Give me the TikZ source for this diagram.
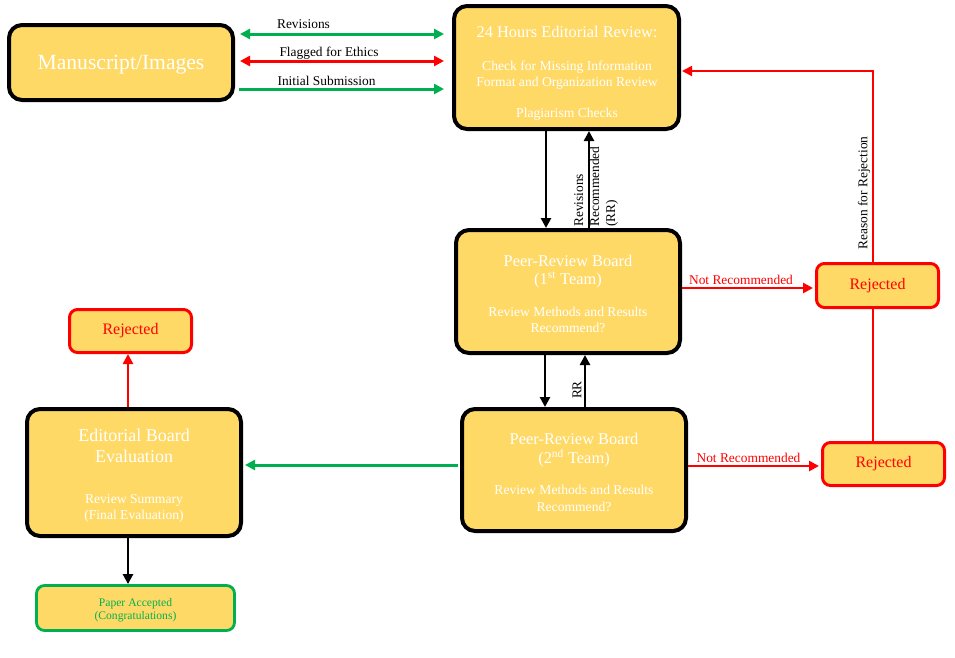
\documentclass[tikz,border=0pt]{standalone}
\usepackage{fontspec}
\setmainfont{Liberation Serif}
\usetikzlibrary{arrows.meta}
\definecolor{boxfill}{HTML}{FFD966}
\definecolor{okgreen}{HTML}{00B050}
\definecolor{nored}{HTML}{FF0000}
\begin{document}
\begin{tikzpicture}[x=1pt,y=-1pt,
  bigbox/.style={draw=black, line width=4pt, fill=boxfill, rounded corners=13pt, inner sep=0pt},
  redbox/.style={draw=nored, line width=3pt, fill=boxfill, rounded corners=8pt, inner sep=0pt, text=nored, font=\fontsize{16}{19}\selectfont},
  greenbox/.style={draw=okgreen, line width=2.8pt, fill=boxfill, rounded corners=8pt, inner sep=0pt},
  wtitle/.style={text=white, inner sep=0pt, yshift=-2pt, font=\fontsize{16.4}{19}\selectfont},
  wbody/.style={text=white, inner sep=0pt, yshift=-2pt, font=\fontsize{13.6}{16}\selectfont},
  lbl/.style={inner sep=0pt, yshift=-1pt, font=\fontsize{13.4}{16.5}\selectfont},
  tip/.style={-{Triangle[length=10pt,width=10pt]}},
  bothtip/.style={{Triangle[length=10pt,width=10pt]}-{Triangle[length=10pt,width=10pt]}},
  blk/.style={draw=black, line width=2.7pt},
  grn/.style={draw=okgreen, line width=3pt},
  rd/.style={draw=nored, line width=2.5pt},
  rdline/.style={draw=nored, line width=2pt}
]
\useasboundingbox (0,0) rectangle (955,657);

% boxes
\node[bigbox, minimum width=224pt, minimum height=75pt] (ms) at (121,62.5) {};
\node[bigbox, minimum width=225pt, minimum height=123pt] (ed) at (566.5,67.5) {};
\node[bigbox, minimum width=224pt, minimum height=123pt] (p1) at (568,291.5) {};
\node[bigbox, minimum width=224pt, minimum height=122pt] (p2) at (574,470) {};
\node[bigbox, minimum width=214pt, minimum height=127pt] (eb) at (134,472.5) {};
\node[redbox, minimum width=122pt, minimum height=44pt] (r1) at (877.5,285.5) {\raisebox{-1.5pt}{Rejected}};
\node[redbox, minimum width=122pt, minimum height=43pt] (r2) at (883.5,464) {\raisebox{-1.5pt}{Rejected}};
\node[redbox, minimum width=122pt, minimum height=43pt] (r3) at (130.5,331) {\raisebox{-1.5pt}{Rejected}};
\node[greenbox, minimum width=198pt, minimum height=45pt] (acc) at (135.5,608) {};

% box texts
\node[text=white, inner sep=0pt, yshift=-2.5pt, font=\fontsize{21.6}{26}\selectfont] (mst) at (121,62) {Manuscript/Images};
\node[wtitle] (edt) at (567,30) {24 Hours Editorial Review:};
\node[wbody] (ed1) at (567,65) {Check for Missing Information};
\node[wbody] (ed2) at (567,81) {Format and Organization Review};
\node[wbody] (ed3) at (567,112) {Plagiarism Checks};

\node[wtitle] (p1t) at (568,259) {Peer-Review Board};
\node[wtitle] (p1u) at (568,278) {(1\textsuperscript{st} Team)};
\node[wbody] (p1a) at (568,310) {Review Methods and Results};
\node[wbody] (p1b) at (568,326) {Recommend?};

\node[wtitle] (p2t) at (574,437) {Peer-Review Board};
\node[wtitle] (p2u) at (574,456) {(2\textsuperscript{nd} Team)};
\node[wbody] (p2a) at (574,488) {Review Methods and Results};
\node[wbody] (p2b) at (574,505) {Recommend?};

\node[wtitle, font=\fontsize{18}{21}\selectfont] (ebt) at (134,433) {Editorial Board};
\node[wtitle, font=\fontsize{18}{21}\selectfont] (ebu) at (134,454) {Evaluation};
\node[wbody] (eba) at (134,498) {Review Summary};
\node[wbody] (ebb) at (134,514) {(Final Evaluation)};

\node[text=okgreen, inner sep=0pt, yshift=-1.5pt, font=\fontsize{11.6}{14}\selectfont] (acca) at (135.5,602) {Paper Accepted};
\node[text=okgreen, inner sep=0pt, yshift=-1.5pt, font=\fontsize{11.6}{14}\selectfont] (accb) at (135.5,615) {(Congratulations)};

% helper coordinates
\coordinate (ya) at (0,34);
\coordinate (yb) at (0,61);
\coordinate (yc) at (0,89);
\coordinate (xa) at (546,0);
\coordinate (xb) at (589,0);
\coordinate (xc) at (545,0);
\coordinate (xd) at (585,0);
\coordinate (yd) at (0,288);
\coordinate (ye) at (0,466);
\coordinate (xr) at (872.5,0);
\coordinate (yr) at (0,71);
\coordinate (yg) at (0,465);
\coordinate (xe) at (128,0);

% top arrows
\draw[grn, bothtip, shorten <=5pt, shorten >=8pt] (ms.east |- ya) -- (ed.west |- ya);
\draw[rd, line width=3pt, bothtip, shorten <=5pt, shorten >=8pt] (ms.east |- yb) -- (ed.west |- yb);
\draw[grn, tip, shorten <=4pt, shorten >=8pt] (ms.east |- yc) -- (ed.west |- yc);
\node[lbl] (lrev) at (303.5,23) {Revisions};
\node[lbl] (lfl) at (329,52) {Flagged for Ethics};
\node[lbl] (lini) at (326.5,80) {Initial Submission};

% editorial <-> peer1
\draw[blk, tip] (ed.south -| xa) -- (p1.north -| xa);
\draw[blk, tip] (p1.north -| xb) -- (ed.south -| xb);
\node[lbl, yshift=1pt, rotate=90, anchor=west, align=left, font=\fontsize{13.4}{16}\selectfont] (lrr) at (596,227) {Revisions\\Recommended\\(RR)};

% peer1 <-> peer2
\draw[blk, tip] (p1.south -| xc) -- (p2.north -| xc);
\draw[blk, tip] (p2.north -| xd) -- (p1.south -| xd);
\node[lbl, yshift=1pt, rotate=90] (lrr2) at (577,390) {RR};

% not recommended
\draw[rd, tip, shorten >=2pt] (p1.east |- yd) -- (r1.west |- yd);
\draw[rd, tip, shorten >=2pt] (p2.east |- ye) -- (r2.west |- ye);
\node[lbl, text=nored] (lnr1) at (741,279) {Not Recommended};
\node[lbl, text=nored] (lnr2) at (748.5,457) {Not Recommended};

% rejection loop
\draw[rdline] (r2.north -| xr) -- (r1.south -| xr);
\draw[rdline, tip, shorten >=1pt] (r1.north -| xr) |- (ed.east |- yr);
\node[lbl, yshift=1pt, rotate=90] (lrej) at (864,193) {Reason for Rejection};

% to editorial board
\draw[grn, tip, shorten <=2pt, shorten >=2pt] (p2.west |- yg) -- (eb.east |- yg);
\draw[rd, tip] (eb.north -| xe) -- (r3.south -| xe);
\draw[blk, tip] (eb.south -| xe) -- (acc.north -| xe);
\end{tikzpicture}
\end{document}
